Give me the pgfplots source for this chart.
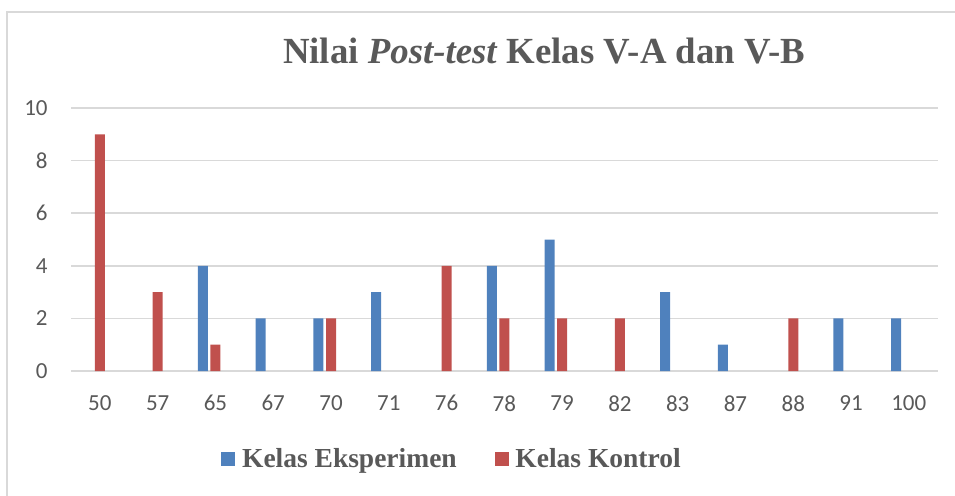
\documentclass[border=0pt]{standalone}
\usepackage{fontspec}
\setmainfont{Liberation Serif}
\newfontfamily\carlito{Carlito}
\usepackage{pgfplots}
\usepackage{pgfplotstable}
\pgfplotsset{compat=1.18}
\definecolor{cblue}{HTML}{4F81BD}
\definecolor{cred}{HTML}{C0504D}
\definecolor{ctext}{HTML}{595959}
\definecolor{cgrid}{HTML}{D9D9D9}
\pgfplotstableread{
x e k
0 0 9
1 0 3
2 4 1
3 2 0
4 2 2
5 3 0
6 0 4
7 4 2
8 5 2
9 0 2
10 3 0
11 1 0
12 0 2
13 2 0
14 2 0
}\data
\begin{document}
\begin{tikzpicture}
\useasboundingbox (0,0) rectangle (477.5pt,247.5pt);
\draw[cgrid, line width=0.75pt] (3.5pt,-10pt) -- (3.5pt,241.5pt) -- (500pt,241.5pt);
\node[anchor=base, text=ctext, font=\fontsize{18.4}{21}\selectfont\bfseries] at (272pt,216pt) {Nilai \textit{Post-test} Kelas V-A dan V-B};
\begin{axis}[
  at={(35.5pt,62pt)}, anchor=south west,
  scale only axis, width=433.35pt, height=131.5pt,
  xmin=-0.5, xmax=14.5, ymin=0, ymax=10,
  ytick={0,2,4,6,8,10},
  xtick={0,...,14},
  xticklabels={50,57,65,67,70,71,76,78,79,82,83,87,88,91,100},
  major tick length=0pt,
  axis line style={draw=none},
  ymajorgrids, grid style={cgrid, line width=0.75pt},
  tick label style={font=\carlito\fontsize{11.5}{13}\selectfont, text=ctext, inner sep=0pt},
  /pgf/number format/assume math mode=true,
  yticklabel style={anchor=east, xshift=-11.5pt},
  xticklabel style={anchor=north, yshift=-12pt},
  ybar, bar width=0.173,
  unbounded coords=discard,
  legend style={draw=none, fill=none, inner sep=0pt, at={(0.1731,-0.3346)}, anchor=west,
    nodes={inner sep=0pt}, text=ctext,
    font=\fontsize{13.75}{16}\selectfont\bfseries,
    /tikz/every odd column/.append style={column sep=3.35pt},
    /tikz/every even column/.append style={column sep=19pt}},
  legend columns=2,
  legend image code/.code={\fill[#1] (0pt,-3.5pt) rectangle (7pt,3.5pt);},
]
\addplot[fill=cblue, draw=none, bar shift=-0.218, y filter/.expression={y==0 ? nan : y}] table[x=x, y=e] {\data};
\addplot[fill=cred, draw=none, bar shift=0, y filter/.expression={y==0 ? nan : y}] table[x=x, y=k] {\data};
\legend{Kelas Eksperimen, Kelas Kontrol}
\end{axis}
\end{tikzpicture}
\end{document}
